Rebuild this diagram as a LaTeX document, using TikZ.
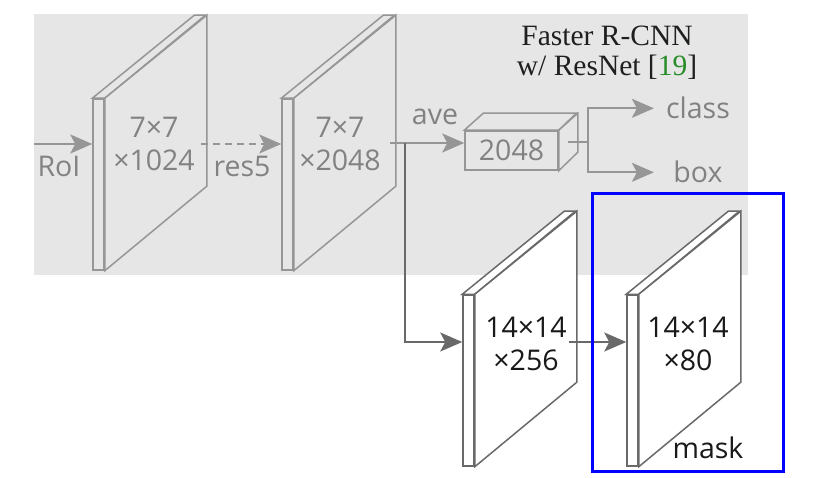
\documentclass[tikz,border=0pt]{standalone}
\usepackage{fontspec}
\setmainfont{Liberation Serif}
\setsansfont{Open Sans}
\usetikzlibrary{arrows.meta, positioning, calc}
\definecolor{panelgrey}{RGB}{230,230,230}
\definecolor{toplight}{RGB}{150,150,150}
\definecolor{toptext}{RGB}{130,130,130}
\definecolor{lowdark}{RGB}{105,105,105}
\definecolor{lowtext}{RGB}{25,25,25}
\definecolor{refgreen}{RGB}{40,140,40}
\definecolor{maskblue}{RGB}{0,0,255}
\tikzset{
  fmap/.style={rectangle, line width=1.5pt, inner sep=0pt,
    minimum width=11pt, minimum height=171pt},
  fmtop/.style={fmap, draw=toplight, fill=panelgrey},
  fmlow/.style={fmap, draw=lowdark, fill=white},
  facetop/.style={draw=toplight, fill=panelgrey, line width=1.5pt},
  facelow/.style={draw=lowdark, fill=white, line width=1.5pt},
  dimtext/.style={font=\sffamily\fontsize{28.5}{33}\selectfont, align=center,
    inner sep=0pt},
  toplabel/.style={font=\sffamily\fontsize{28.5}{33}\selectfont, text=toptext,
    inner sep=0pt},
  cuboid/.style={rectangle, draw=toplight, fill=panelgrey, line width=1.5pt,
    minimum width=93pt, minimum height=39pt, inner sep=0pt,
    font=\sffamily\fontsize{28.5}{33}\selectfont, text=toptext},
  flow/.style={-{Stealth[length=22pt,width=19pt,inset=5pt]}, line width=2pt},
}
% top and side faces of a feature map slab
\newcommand{\fmapfaces}[2]{%
  \draw[#2] (#1.north west) -- ++(102,-83) -- ++(11,0) -- (#1.north east) -- cycle;
  \draw[#2] (#1.north east) -- ++(102,-83) -- ++(0,171) -- (#1.south east) -- cycle;
}
\begin{document}
\begin{tikzpicture}[x=1pt, y=-1pt]
\useasboundingbox (0,0) rectangle (837,478);
\fill[panelgrey] (34,14) rectangle (748,275);

\node[font=\fontsize{29.5}{30}\selectfont, align=center, inner sep=0pt,
  text=black!88] (title) at (607,53)
  {Faster R-CNN\\w/ ResNet [\textcolor{refgreen}{19}]};

% head of Faster R-CNN
\node[fmtop] (res4) at (98.5,184.5) {};
\fmapfaces{res4}{facetop}
\node[dimtext, text=toptext] (res4txt) at (154,143.5) {7×7\\×1024};

\node[fmtop] (res5) at (287.5,184.5) {};
\fmapfaces{res5}{facetop}
\node[dimtext, text=toptext] (res5txt) at (340,143.5) {7×7\\×2048};

\node[cuboid] (pool) at (511.5,150.5) {2048};
\draw[facetop] (pool.north west) -- ++(19,-17) -- ++(93,0) -- (pool.north east) -- cycle;
\draw[facetop] (pool.north east) -- ++(19,-17) -- ++(0,39) -- (pool.south east) -- cycle;

\node[toplabel, anchor=base] (roi) at (59,177) {RoI};
\node[toplabel, anchor=base] (res5lbl) at (242,177) {res5};
\node[toplabel, anchor=base] (ave) at (435,125) {ave};
\node[toplabel, anchor=base] (cls) at (698,119) {class};
\node[toplabel, anchor=base] (bbox) at (698,183) {box};

\coordinate (roiin) at (34,144);
\coordinate (fork) at (405,143);
\coordinate (headfork) at (588,142);

\draw[flow, draw=toplight] (roiin) -- (roiin -| res4.west);
\draw[flow, draw=toplight, dash pattern=on 7pt off 5pt]
  ($(res4.east)+(96,-40.5)$) -- ($(res5.west)+(0,-40.5)$);
\draw[draw=toplight, line width=2pt] ($(res5.east)+(96,-41.5)$) -- (fork);
\draw[flow, draw=toplight] (fork) -- (fork -| pool.west);
\draw[draw=toplight, line width=2pt] ($(pool.east)+(9.5,-8.5)$) -- (headfork);
\draw[flow, draw=toplight] (headfork) |- ([xshift=-12pt]cls.west);
\draw[flow, draw=toplight] (headfork) |- ([xshift=-12pt]cls.west |- bbox.west);

% mask branch
\node[fmlow] (convmap) at (468.5,380.5) {};
\fmapfaces{convmap}{facelow}
\node[dimtext, text=lowtext] (convtxt) at (526,344) {14×14\\×256};

\node[fmlow] (maskmap) at (632.5,380.5) {};
\fmapfaces{maskmap}{facelow}
\node[dimtext, text=lowtext] (masktxt) at (688,344) {14×14\\×80};
\node[dimtext, text=lowtext, anchor=base] (masklbl) at (708,458) {mask};

\draw[flow, draw=lowdark] (fork) |- ([yshift=38.5pt]convmap.west);
\draw[flow, draw=lowdark] ($(convmap.east)+(94,-38.5)$) -- ([yshift=38.5pt]maskmap.west);

\draw[maskblue, line width=3pt] (592,194) rectangle (783,471);
\end{tikzpicture}
\end{document}
